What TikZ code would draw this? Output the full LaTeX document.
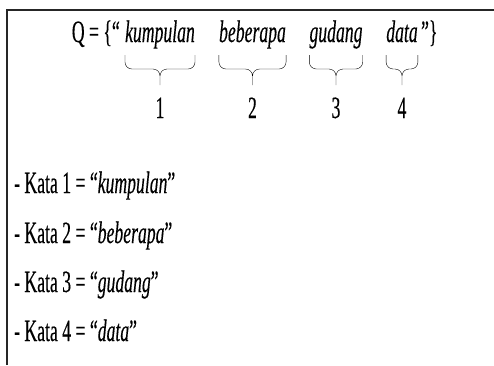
\documentclass[tikz,border=0pt]{standalone}
\usepackage{fontspec}
\setmainfont[FakeStretch=0.57, FakeBold=0.3]{Liberation Serif}
\usetikzlibrary{calc,positioning}

\begin{document}
\begin{tikzpicture}[
    x=1pt, y=1pt,
    every node/.style={inner sep=0pt, font=\fontsize{31}{36}\selectfont},
    word/.style={anchor=base, font=\fontsize{31}{36}\selectfont\itshape},
    num/.style={anchor=base},
    kata/.style={anchor=base west},
    frame/.style={draw=black!85, line width=1.3pt},
    wordbrace/.style={draw=black!80, line width=1.6pt, to path={
        let \p1=(\tikztostart), \p2=(\tikztotarget), \n1={(\x1+\x2)/2} in
        (\p1) -- ++(0,-7) arc[start angle=180, end angle=270, radius=7]
        -- (\n1-7, \y1-14) arc[start angle=90, end angle=0, radius=7]
        -- (\n1, \y1-30) -- (\n1, \y1-21)
        arc[start angle=180, end angle=90, radius=7]
        -- (\x2-7, \y1-14) arc[start angle=270, end angle=360, radius=7]
        -- (\p2)}}
]
\useasboundingbox (0,0) rectangle (494,-365);
\draw[frame] (7,-365) -- (7,-10) -- (494,-10);

% the query and its words
\node[word] (kumpulan) at (160,-42) {kumpulan};
\node[word] (beberapa) at (252.5,-42) {beberapa};
\node[word] (gudang) at (336,-42) {gudang};
\node[word] (data) at (402,-42) {data};
\node[anchor=base east] (q) at ([xshift=-5pt]kumpulan.base west) {Q = \{“};
\node[kata] (qend) at ([xshift=3pt]data.base east) {”\}};

\foreach \w/\n in {kumpulan/1, beberapa/2, gudang/3, data/4} {
    \draw ([yshift=-13pt]\w.base west) to[wordbrace] ([yshift=-13pt]\w.base east);
    \node[num] (n\n) at ([yshift=-76pt]\w.base) {\n};
}

% list of words
\node[kata] (kata1) at (14,-193) {- Kata 1 = “\textit{kumpulan}”};
\node[kata] (kata2) at (14,-243) {- Kata 2 = “\textit{beberapa}”};
\node[kata] (kata3) at (14,-292) {- Kata 3 = “\textit{gudang}”};
\node[kata] (kata4) at (14,-341) {- Kata 4 = “\textit{data}”};
\end{tikzpicture}
\end{document}
